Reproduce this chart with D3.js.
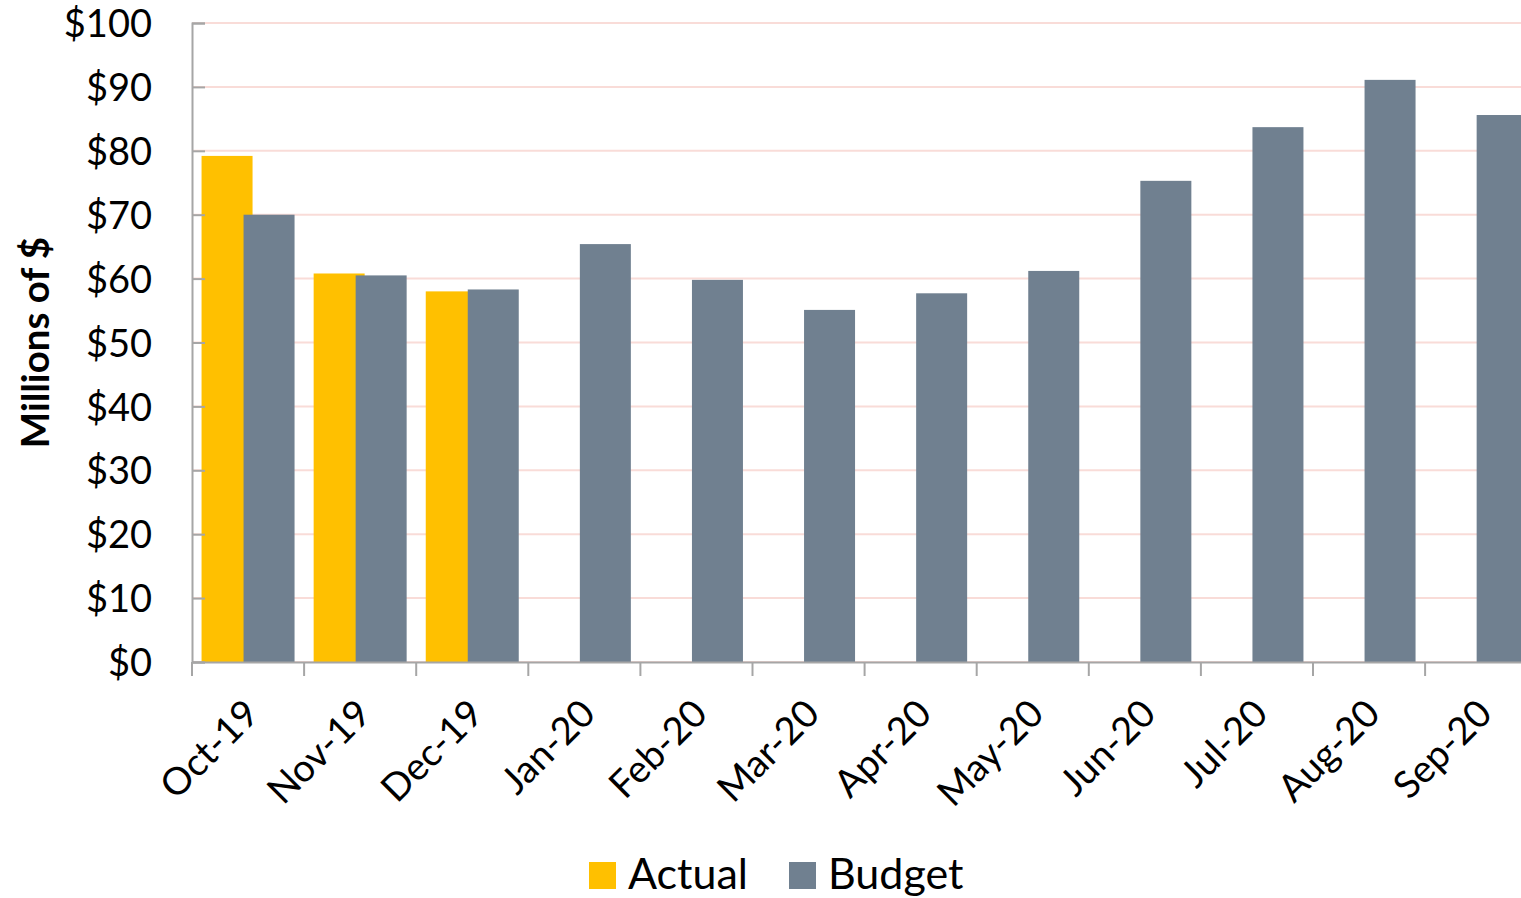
<!DOCTYPE html>
<html>
<head>
<meta charset="utf-8">
<script src="https://cdn.jsdelivr.net/npm/d3@7/dist/d3.min.js"></script>
<style>
  html, body { margin: 0; padding: 0; background: #fff; overflow: hidden; }
  svg { display: block; font-family: Lato, "Open Sans", sans-serif; }
</style>
</head>
<body>
<svg id="chart" width="1521" height="898"></svg>
<script>
// Monthly revenue, millions of dollars
const months = ["Oct-19", "Nov-19", "Dec-19", "Jan-20", "Feb-20", "Mar-20",
                "Apr-20", "May-20", "Jun-20", "Jul-20", "Aug-20", "Sep-20"];
const actual = [79.2, 60.8, 58.0, null, null, null, null, null, null, null, null, null];
const budget = [70.0, 60.5, 58.3, 65.4, 59.8, 55.1, 57.7, 61.2, 75.3, 83.7, 91.1, 85.6];
const yTicks = [0, 10, 20, 30, 40, 50, 60, 70, 80, 90, 100];
const seriesNames = ["Actual", "Budget"];
const seriesColors = ["#FFC000", "#708090"];

const svg = d3.select("#chart");
const plotLeft = 192, plotTop = 23, plotBottom = 662;
const bandW = 112.1;
const plotRight = plotLeft + bandW * months.length;

const x = d3.scaleBand().domain(months).range([plotLeft, plotRight]).paddingInner(0).paddingOuter(0);
const y = d3.scaleLinear().domain([0, 100]).range([plotBottom, plotTop]);

// gridlines
svg.append("g").selectAll("line").data(yTicks).join("line")
  .attr("x1", plotLeft).attr("x2", plotRight)
  .attr("y1", d => y(d)).attr("y2", d => y(d))
  .attr("stroke", "#f9dcd8").attr("stroke-width", 2);

// bars: two overlapping columns per month
const barW = 51, overlap = 9;
const groupW = barW * 2 - overlap;
const off = (bandW - groupW) / 2;

svg.append("g").selectAll("rect").data(months.map((m, i) => ({ m, v: actual[i] })).filter(d => d.v != null))
  .join("rect")
  .attr("x", d => x(d.m) + off)
  .attr("y", d => y(d.v))
  .attr("width", barW)
  .attr("height", d => y(0) - y(d.v))
  .attr("fill", seriesColors[0]);

svg.append("g").selectAll("rect").data(months.map((m, i) => ({ m, v: budget[i] })))
  .join("rect")
  .attr("x", d => x(d.m) + off + barW - overlap)
  .attr("y", d => y(d.v))
  .attr("width", barW)
  .attr("height", d => y(0) - y(d.v))
  .attr("fill", seriesColors[1]);

// y axis
const yAxis = svg.append("g").attr("transform", `translate(${plotLeft},0)`)
  .call(d3.axisLeft(y).tickValues(yTicks).tickSize(-13).tickPadding(40)
    .tickFormat(d => "$" + d));
yAxis.select(".domain").attr("stroke", "#a6a6a6").attr("stroke-width", 2);
yAxis.selectAll(".tick line").attr("stroke", "#a6a6a6").attr("stroke-width", 2);
yAxis.selectAll(".tick text").attr("font-size", 38).attr("fill", "#000")
  .attr("font-family", "Lato, sans-serif").attr("dy", "0.36em");

// x axis
const xAxis = svg.append("g").attr("transform", `translate(0,${plotBottom})`)
  .call(d3.axisBottom(x).tickSize(0).tickFormat(""));
xAxis.select(".domain").attr("stroke", "#a6a6a6").attr("stroke-width", 2);
// category boundary ticks
svg.append("g").selectAll("line").data(d3.range(months.length + 1)).join("line")
  .attr("x1", i => plotLeft + i * bandW).attr("x2", i => plotLeft + i * bandW)
  .attr("y1", plotBottom).attr("y2", plotBottom + 14)
  .attr("stroke", "#a6a6a6").attr("stroke-width", 2);

// rotated category labels
svg.append("g").selectAll("text").data(months).join("text")
  .attr("transform", d => `translate(${x(d) + x.bandwidth() / 2 + 13},${plotBottom + 54}) rotate(-45)`)
  .attr("text-anchor", "end")
  .attr("font-size", 38)
  .attr("fill", "#000")
  .text(d => d);

// y axis title
svg.append("text")
  .attr("transform", `translate(49,${(plotTop + plotBottom) / 2}) rotate(-90)`)
  .attr("text-anchor", "middle")
  .attr("font-size", 38.5)
  .attr("font-weight", "bold")
  .attr("fill", "#000")
  .text("Millions of $");

// legend
const legend = svg.append("g");
const legendX = [589, 789];
seriesNames.forEach((name, i) => {
  legend.append("rect").attr("x", legendX[i]).attr("y", 862)
    .attr("width", 27).attr("height", 27).attr("fill", seriesColors[i]);
  legend.append("text").attr("x", legendX[i] + 39).attr("y", 889)
    .attr("font-size", 43).attr("fill", "#000").text(name);
});
</script>
</body>
</html>
